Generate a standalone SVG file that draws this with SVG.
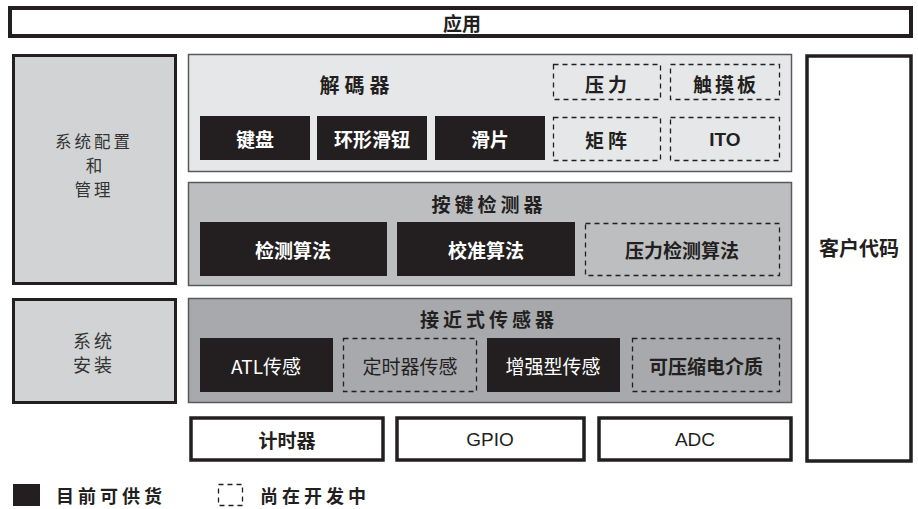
<svg xmlns="http://www.w3.org/2000/svg" width="918" height="509" viewBox="0 0 918 509">
<style>
.cj{font-family:"Noto Sans CJK SC","Liberation Sans",sans-serif;}
.lt{font-family:"Liberation Sans",Arial,sans-serif;}
.b{font-weight:bold;}
.dk{fill:#231f20;}
.wt{fill:#ffffff;}
.frame{fill:#ffffff;stroke:#231f20;}
.side{fill:#d1d3d4;stroke:#231f20;stroke-width:3;}
.panel{stroke:#5a5a5c;stroke-width:1.5;}
.blk{fill:#231f20;}
.dash{fill:none;stroke:#231f20;stroke-width:1.3;stroke-dasharray:5 4;}
text{text-anchor:middle;dominant-baseline:central;}
</style>
<rect width="918" height="509" fill="#ffffff"/>
<g id="app">
<rect class="frame" x="10" y="8" width="901" height="28" stroke-width="4"/>
<text class="cj b dk" x="462" y="22" font-size="19">应用</text>
</g>
<g id="sysconfig">
<rect class="side" x="13.5" y="55.5" width="162" height="228"/>
<text class="cj" x="94" y="141" font-size="16.5" fill="#333" letter-spacing="3">系统配置</text>
<text class="cj" x="94" y="165" font-size="16.5" fill="#333">和</text>
<text class="cj" x="94" y="189" font-size="16.5" fill="#333" letter-spacing="3">管理</text>
</g>
<g id="sysinstall">
<rect class="side" x="13.5" y="299.5" width="162" height="103"/>
<text class="cj" x="94" y="340" font-size="18" fill="#333" letter-spacing="3">系统</text>
<text class="cj" x="94" y="364" font-size="18" fill="#333" letter-spacing="3">安装</text>
</g>
<g id="decoder">
<rect class="panel" x="188.5" y="54.5" width="603" height="117" fill="#e6e7e8"/>
<text class="cj b dk" x="357" y="84" font-size="20" letter-spacing="5">解碼器</text>
<rect class="blk" x="200" y="116" width="110" height="44"/>
<text class="cj b wt" x="255" y="138" font-size="19">键盘</text>
<rect class="blk" x="317" y="116" width="110" height="44"/>
<text class="cj b wt" x="372" y="138" font-size="19">环形滑钮</text>
<rect class="blk" x="435" y="116" width="110" height="44"/>
<text class="cj b wt" x="490" y="138" font-size="19">滑片</text>
<rect class="dash" x="553.5" y="64.5" width="107" height="35"/>
<text class="cj b dk" x="608" y="83" font-size="19" letter-spacing="4">压力</text>
<rect class="dash" x="670.5" y="64.5" width="109" height="35"/>
<text class="cj b dk" x="726" y="83" font-size="19" letter-spacing="3">触摸板</text>
<rect class="dash" x="553.5" y="117.5" width="107" height="43"/>
<text class="cj b dk" x="608" y="139" font-size="19" letter-spacing="4">矩阵</text>
<rect class="dash" x="670.5" y="117.5" width="109" height="43"/>
<text class="lt b dk" x="725" y="139" font-size="19">ITO</text>
</g>
<g id="keydetector">
<rect class="panel" x="188.5" y="182.5" width="603" height="103" fill="#bcbec0"/>
<text class="cj b dk" x="489" y="203" font-size="19" letter-spacing="4">按键检测器</text>
<rect class="blk" x="200" y="222" width="187" height="54"/>
<text class="cj b wt" x="293" y="249" font-size="19">检测算法</text>
<rect class="blk" x="397" y="222" width="178" height="54"/>
<text class="cj b wt" x="486" y="249" font-size="19">校准算法</text>
<rect class="dash" x="585.5" y="223.5" width="194" height="52"/>
<text class="cj b dk" x="682" y="249" font-size="19">压力检测算法</text>
</g>
<g id="proximity">
<rect class="panel" x="188.5" y="298.5" width="603" height="104" fill="#a7a9ac"/>
<text class="cj b dk" x="489" y="318" font-size="19" letter-spacing="4">接近式传感器</text>
<rect class="blk" x="200" y="338" width="133" height="54"/>
<text class="cj wt" x="266" y="365" font-size="19">ATL传感</text>
<rect class="dash" x="343.5" y="338.5" width="133" height="53"/>
<text class="cj dk" x="410" y="365" font-size="19">定时器传感</text>
<rect class="blk" x="487" y="338" width="133" height="54"/>
<text class="cj wt" x="553" y="365" font-size="19">增强型传感</text>
<rect class="dash" x="632.5" y="338.5" width="147" height="53"/>
<text class="cj b dk" x="706" y="365" font-size="19">可压缩电介质</text>
</g>
<g id="client">
<rect class="frame" x="807" y="56" width="104" height="405" stroke-width="3.5"/>
<text class="cj b dk" x="859" y="247" font-size="20">客户代码</text>
</g>
<g id="timer">
<rect class="frame" x="191" y="418" width="192" height="42" stroke-width="3.5"/>
<text class="cj b dk" x="287" y="439" font-size="19">计时器</text>
</g>
<g id="gpio">
<rect class="frame" x="397" y="418" width="187" height="42" stroke-width="3.5"/>
<text class="lt dk" x="490" y="439" font-size="19">GPIO</text>
</g>
<g id="adc">
<rect class="frame" x="599" y="418" width="192" height="42" stroke-width="3.5"/>
<text class="lt dk" x="695" y="439" font-size="19">ADC</text>
</g>
<g id="legend">
<rect class="blk" x="13" y="484" width="27" height="22"/>
<text class="cj b dk" x="111" y="495" font-size="18" letter-spacing="4">目前可供货</text>
<rect class="dash" x="218.5" y="484.5" width="24" height="21"/>
<text class="cj b dk" x="315" y="495" font-size="18" letter-spacing="4">尚在开发中</text>
</g>
<g id="connectors"></g>
</svg>
